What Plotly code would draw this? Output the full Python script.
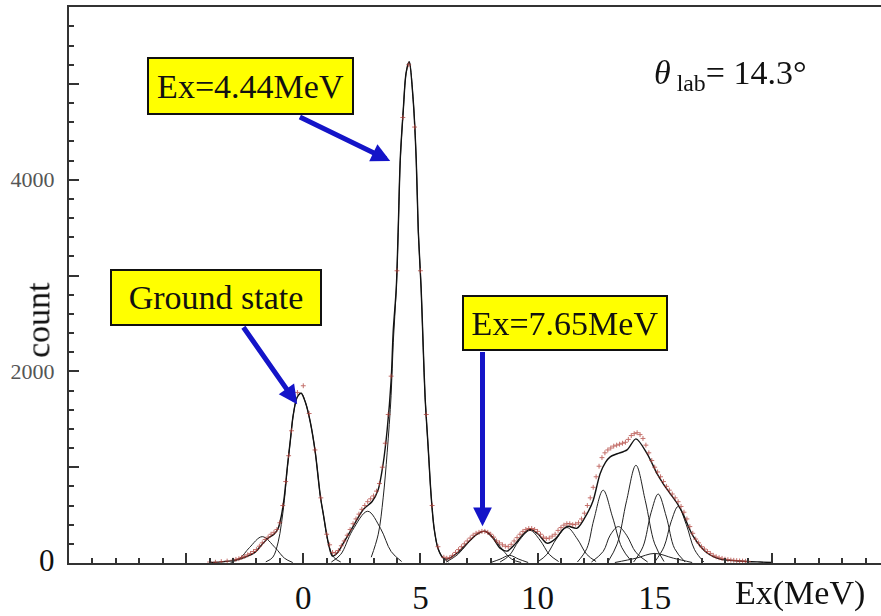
import plotly.graph_objects as go

# ---------------- data ----------------
ex_tick_vals = [-10, -5, 0, 5, 10, 15, 20]
ex_tick_text = ["", "", "0", "5", "10", "15", ""]
count_tick_vals = [0, 1000, 2000, 3000, 4000, 5000]
count_tick_text = ['<span style="font-size:31px;fill:#111">0</span>', "", "2000", "", "4000", ""]

# Total fit curve
total_x = [-4.0, -3.5, -3.0, -2.5, -2.05, -1.75, -1.5, -1.25, -1.07, -0.94, -0.81, -0.68,
           -0.55, -0.43, -0.26, -0.09, 0.09, 0.30, 0.51, 0.73, 0.85, 1.07, 1.24, 1.45,
           1.71, 2.13, 2.56, 2.94, 3.2, 3.41, 3.58, 3.75, 3.84, 3.97, 4.05, 4.14, 4.27,
           4.39, 4.52, 4.69, 4.82, 4.91, 5.03, 5.12, 5.2, 5.33, 5.46, 5.59, 5.76, 5.97,
           6.14, 6.57, 7.0, 7.42, 7.76, 8.1, 8.4, 8.7, 9.04, 9.39, 9.68, 10.03, 10.4,
           10.75, 11.09, 11.3, 11.69, 12.12, 12.37, 12.67, 12.9, 13.1, 13.4, 13.82, 14.2,
           14.68, 15.1, 15.36, 15.66, 15.96, 16.2, 16.64, 17.24, 17.8, 18.64, 19.5, 20.0]
total_y = [5, 12, 25, 60, 114, 197, 259, 300, 363, 487, 694, 1005,
           1285, 1544, 1730, 1772, 1678, 1471, 1160, 694, 518, 207, 73, 104,
           207, 383, 559, 642, 767, 1036, 1388, 1906, 2424, 2870, 3460, 4217, 4735,
           5118, 5232, 4838, 4217, 3460, 2870, 2248, 1730, 1212, 694, 352, 145, 52,
           41, 104, 207, 300, 332, 259, 155, 124, 197, 300, 352, 300, 207,
           249, 352, 383, 363, 518, 650, 932, 1050, 1108, 1140, 1181, 1295,
           1140, 932, 829, 725, 622, 518, 280, 104, 41, 21, 10, 5]

# Fitted peak components
c1_x = [-3.1, -2.7, -2.3, -1.75, -1.2, -0.8, -0.45]
c1_y = [5, 50, 160, 275, 160, 50, 5]
gs_x = [-1.6, -1.3, -1.07, -0.94, -0.81, -0.68, -0.55, -0.43, -0.26, -0.09, 0.09, 0.30,
        0.51, 0.73, 0.85, 1.07, 1.3, 1.6]
gs_y = [12, 60, 220, 400, 650, 990, 1280, 1540, 1730, 1772, 1678, 1471,
        1160, 694, 518, 207, 60, 10]
c3_x = [1.2, 1.6, 2.1, 2.75, 3.3, 3.75, 4.2]
c3_y = [10, 90, 340, 540, 360, 120, 15]
c4_x = [2.9, 3.2, 3.41, 3.58, 3.75, 3.84, 3.97, 4.05, 4.14, 4.27, 4.39, 4.52, 4.69,
        4.82, 4.91, 5.03, 5.12, 5.2, 5.33, 5.46, 5.59, 5.76, 5.97, 6.2]
c4_y = [60, 300, 680, 1150, 1750, 2300, 2850, 3450, 4200, 4730, 5110, 5232, 4838,
        4217, 3460, 2870, 2248, 1730, 1212, 694, 352, 145, 52, 10]
c5_x = [6.1, 6.6, 7.0, 7.4, 7.76, 8.1, 8.5, 8.9, 9.3]
c5_y = [10, 90, 200, 300, 330, 270, 140, 40, 5]
c6_x = [8.0, 8.4, 8.8, 9.2, 9.6]
c6_y = [5, 40, 80, 40, 5]
c7_x = [8.4, 8.8, 9.2, 9.68, 10.1, 10.5, 10.9]
c7_y = [10, 80, 230, 340, 240, 90, 15]
c8_x = [10.0, 10.4, 10.8, 11.26, 11.7, 12.1, 12.5]
c8_y = [10, 90, 250, 370, 250, 90, 15]
c9_x = [11.7, 12.1, 12.4, 12.8, 13.2, 13.6, 14.0]
c9_y = [10, 150, 450, 760, 480, 160, 20]
c10_x = [12.3, 12.8, 13.1, 13.45, 13.8, 14.2, 14.7]
c10_y = [10, 120, 290, 380, 290, 110, 10]
c11_x = [13.0, 13.4, 13.8, 14.2, 14.6, 15.0, 15.4]
c11_y = [10, 200, 650, 1020, 650, 200, 15]
c12_x = [14.1, 14.5, 14.85, 15.15, 15.5, 15.85, 16.3]
c12_y = [10, 170, 530, 720, 480, 150, 10]
c13_x = [15.0, 15.4, 15.7, 16.0, 16.35, 16.7, 17.1]
c13_y = [10, 170, 430, 590, 400, 140, 10]
c14_x = [13.3, 14.2, 15.0, 15.8, 16.6]
c14_y = [5, 50, 100, 50, 5]

# Measured spectrum (points), coarse grid
meas_x = [-4.0, -3.75, -3.5, -3.25, -3.0, -2.75, -2.5, -2.25, -2.0, -1.75, -1.5, -1.25,
          -1.0, -0.75, -0.5, -0.25, 0.0, 0.25, 0.5, 0.75, 1.0, 1.25, 1.5, 1.75, 2.0,
          2.25, 2.5, 2.75, 3.0, 3.25, 3.5, 3.75, 4.0, 4.25, 4.5, 4.75, 5.0, 5.25, 5.5,
          5.75, 6.0, 6.25, 6.5, 6.75, 7.0, 7.25, 7.5, 7.75, 8.0, 8.25, 8.5, 8.75, 9.0,
          9.25, 9.5, 9.75, 10.0, 10.25, 10.5, 10.75, 11.0, 11.25, 11.5, 11.75, 12.0,
          12.25, 12.5, 12.75, 13.0, 13.25, 13.5, 13.75, 14.0, 14.25, 14.5, 14.75, 15.0,
          15.25, 15.5, 15.75, 16.0, 16.25, 16.5, 16.75, 17.0, 17.25, 17.5, 17.75, 18.0,
          18.25, 18.5, 18.75, 19.0]
meas_y = [10, 8, 15, 20, 30, 45, 70, 100, 140, 210, 270, 320,
          420, 850, 1380, 1780, 1850, 1560, 1180, 680, 300, 110, 130, 230, 350,
          460, 560, 640, 700, 830, 1250, 1950, 3050, 4650, 5200, 4550, 3050, 1550, 600,
          170, 60, 55, 110, 170, 230, 290, 320, 330, 300, 230, 190, 170, 230,
          300, 350, 360, 330, 270, 260, 300, 370, 410, 400, 420, 520,
          680, 900, 1100, 1180, 1220, 1240, 1260, 1330, 1360, 1300, 1150, 1000,
          900, 800, 720, 640, 530, 380, 250, 170, 120, 80, 55, 40,
          30, 25, 20, 15]
# Measured spectrum, in-between channels
meas_fine_x = [-2.875, -2.625, -2.375, -2.125, -1.875, -1.625, -1.375, -1.125, -0.875, -0.625,
               1.125, 1.375, 1.625, 1.875, 2.125, 2.375, 2.625, 2.875, 3.125, 3.375, 3.625,
               6.125, 6.375, 6.625, 6.875, 7.125, 7.375, 7.625, 7.875, 8.125, 8.375, 8.625,
               8.875, 9.125, 9.375, 9.625, 9.875, 10.125, 10.375, 10.625, 10.875, 11.125,
               11.375, 11.625, 11.875, 12.125, 12.375, 12.625, 12.875, 13.125, 13.375,
               13.625, 13.875, 14.125, 14.375, 14.625, 14.875, 15.125, 15.375, 15.625,
               15.875, 16.125, 16.375, 16.625, 16.875, 17.125, 17.375, 17.625, 17.875,
               18.125, 18.375, 18.625, 18.875]
meas_fine_y = [38, 58, 85, 120, 175, 245, 300, 350, 600, 1120,
               190, 105, 180, 290, 410, 510, 600, 670, 750, 1000, 1550,
               50, 80, 140, 200, 260, 310, 330, 320, 270, 210, 175,
               195, 265, 330, 360, 350, 300, 255, 280, 340, 395,
               410, 405, 460, 600, 790, 1010, 1150, 1200, 1230,
               1250, 1290, 1350, 1340, 1230, 1070, 950, 850, 760,
               680, 590, 460, 310, 210, 145, 100, 65, 48,
               35, 28, 22, 18]

# ---------------- figure ----------------
SERIF = "Liberation Serif, Times New Roman, serif"
fig = go.Figure()

components = [(c1_x, c1_y), (gs_x, gs_y), (c3_x, c3_y), (c4_x, c4_y), (c5_x, c5_y),
              (c6_x, c6_y), (c7_x, c7_y), (c8_x, c8_y), (c9_x, c9_y), (c10_x, c10_y),
              (c11_x, c11_y), (c12_x, c12_y), (c13_x, c13_y), (c14_x, c14_y)]
for cx, cy in components:
    fig.add_trace(go.Scatter(x=cx, y=cy, mode="lines",
                             line=dict(color="#222222", width=1, shape="spline", smoothing=1.0),
                             hoverinfo="skip"))

fig.add_trace(go.Scatter(x=total_x, y=total_y, mode="lines",
                         line=dict(color="#111111", width=1.4, shape="spline", smoothing=0.8)))

for mx, my in [(meas_x, meas_y), (meas_fine_x, meas_fine_y)]:
    fig.add_trace(go.Scatter(x=mx, y=my, mode="markers",
                             marker=dict(symbol="cross-thin", size=3.5, color="#b0403a",
                                         line=dict(color="#b0403a", width=1)),
                             opacity=0.75))

fig.update_xaxes(range=[-10, 24.66], tickmode="array", tickvals=ex_tick_vals,
                 ticktext=ex_tick_text, ticks="inside", ticklen=10, tickwidth=1.5,
                 tickcolor="#333", showline=True, linecolor="#333", linewidth=2,
                 mirror=True, showgrid=False, zeroline=False,
                 tickfont=dict(family=SERIF, size=33, color="#111"),
                 ticklabelstandoff=4,
                 minor=dict(tickmode="linear", tick0=0, dtick=1, ticks="inside",
                            ticklen=5, tickwidth=1.5, tickcolor="#333"))
fig.update_yaxes(range=[0, 5803], tickmode="array", tickvals=count_tick_vals,
                 ticktext=count_tick_text, ticks="inside", ticklen=10, tickwidth=1.5,
                 tickcolor="#333", showline=True, linecolor="#333", linewidth=2,
                 mirror=False, showgrid=False, zeroline=False,
                 tickfont=dict(family=SERIF, size=22, color="#555"),
                 ticklabelstandoff=8,
                 minor=dict(tickmode="linear", tick0=0, dtick=200, ticks="inside",
                            ticklen=5, tickwidth=1.5, tickcolor="#333"))

box = dict(bgcolor="#FFFF00", bordercolor="#111", borderwidth=2, borderpad=1,
           font=dict(family=SERIF, size=34, color="#111"), showarrow=False,
           xref="x", yref="y", xanchor="center", yanchor="middle")
fig.add_annotation(text="Ex=4.44MeV", x=-2.24, y=4983, width=201, height=52, **box)
fig.add_annotation(text="Ground state", x=-3.71, y=2771, width=206, height=51, **box)
fig.add_annotation(text="Ex=7.65MeV", x=11.18, y=2507, width=200, height=50, **box)

arrow = dict(text="", showarrow=True, arrowhead=2, arrowsize=0.75, arrowwidth=5,
             arrowcolor="#1414c8", xref="x", yref="y", axref="x", ayref="y")
fig.add_annotation(x=3.71, y=4196, ax=-0.21, ay=4662, **arrow)
fig.add_annotation(x=-0.26, y=1658, ax=-2.6, ay=2476, **arrow)
fig.add_annotation(x=7.65, y=383, ax=7.65, ay=2217, **arrow)

fig.add_annotation(text="<i>θ</i><sub> lab</sub>= 14.3°", x=14.9, y=5097,
                   xref="x", yref="y", xanchor="left", yanchor="middle", showarrow=False,
                   font=dict(family=SERIF, size=34, color="#111"))

fig.add_annotation(text="count", textangle=-90, x=-0.038, y=0.4375, xref="paper",
                   yref="paper", xanchor="center", yanchor="middle", showarrow=False,
                   font=dict(family=SERIF, size=34, color="#111"))
fig.add_annotation(text="Ex(MeV)", x=0.90, y=-0.054, xref="paper", yref="paper",
                   xanchor="center", yanchor="middle", showarrow=False,
                   font=dict(family=SERIF, size=34, color="#111"))

fig.update_layout(width=881, height=616, showlegend=False,
                  margin=dict(l=69, r=0, t=7, b=49),
                  paper_bgcolor="white", plot_bgcolor="white")

fig.write_html("out.html")
